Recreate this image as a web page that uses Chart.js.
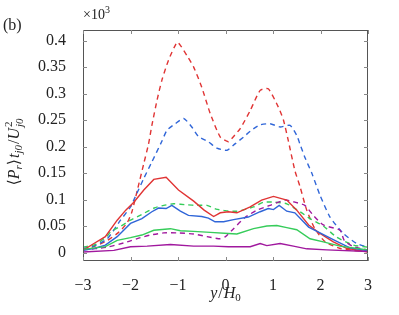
<!DOCTYPE html>
<html>
<head>
<meta charset="utf-8">
<script src="https://cdn.jsdelivr.net/npm/chart.js@4"></script>
<style>
  body { margin: 0; background: #fff; }
  #wrap { width: 399px; height: 315px; position: relative; }
</style>
</head>
<body>
<div id="wrap"><canvas id="chart"></canvas></div>
<script>
// tick labels
const xTicks = [-3, -2, -1, 0, 1, 2, 3];
const yTicks = [0, 0.05, 0.1, 0.15, 0.2, 0.25, 0.3, 0.35, 0.4];

// red dashed
const rdX = [-3, -2.75, -2.5, -2.25, -2.07, -1.97, -1.85, -1.72, -1.62, -1.55, -1.44, -1.34, -1.2, -1.02, -0.95, -0.8, -0.67, -0.5, -0.32, -0.11, 0.06, 0.13, 0.31, 0.52, 0.73, 0.9, 1.11, 1.22, 1.32, 1.46, 1.57, 1.71, 1.88, 2.1, 2.4, 2.7, 3];
const rdY = [0.005, 0.012, 0.022, 0.038, 0.056, 0.077, 0.12, 0.168, 0.205, 0.24, 0.288, 0.325, 0.363, 0.397, 0.391, 0.37, 0.35, 0.312, 0.262, 0.218, 0.209, 0.215, 0.234, 0.268, 0.306, 0.309, 0.275, 0.25, 0.212, 0.155, 0.124, 0.08, 0.045, 0.02, 0.008, 0.004, 0.002];
// blue dashed
const bdX = [-3, -2.8, -2.49, -2.21, -2.0, -1.9, -1.72, -1.55, -1.34, -1.23, -1.06, -0.88, -0.71, -0.57, -0.36, -0.18, 0.03, 0.2, 0.38, 0.55, 0.73, 0.94, 1.15, 1.36, 1.5, 1.57, 1.67, 1.82, 1.99, 2.2, 2.48, 2.76, 3];
const bdY = [0.008, 0.011, 0.026, 0.061, 0.086, 0.105, 0.14, 0.171, 0.21, 0.231, 0.243, 0.253, 0.237, 0.219, 0.209, 0.197, 0.193, 0.205, 0.218, 0.231, 0.241, 0.243, 0.237, 0.24, 0.221, 0.204, 0.18, 0.149, 0.108, 0.067, 0.036, 0.017, 0.01];
// red solid
const rsX = [-3, -2.77, -2.53, -2.28, -2.1, -1.93, -1.72, -1.51, -1.25, -0.99, -0.67, -0.45, -0.25, -0.11, 0.06, 0.24, 0.52, 0.76, 1.01, 1.29, 1.5, 1.75, 1.99, 2.27, 2.55, 3];
const rsY = [0.004, 0.017, 0.03, 0.061, 0.08, 0.095, 0.118, 0.138, 0.142, 0.118, 0.097, 0.08, 0.068, 0.075, 0.077, 0.075, 0.086, 0.099, 0.106, 0.099, 0.08, 0.052, 0.036, 0.02, 0.008, 0.001];
// blue solid
const bsX = [-3, -2.75, -2.53, -2.28, -2.0, -1.76, -1.55, -1.41, -1.25, -1.13, -0.95, -0.78, -0.5, -0.36, -0.22, -0.04, 0.17, 0.48, 0.73, 0.9, 1.01, 1.13, 1.29, 1.46, 1.75, 1.99, 2.3, 2.62, 3];
const bsY = [0.004, 0.008, 0.014, 0.03, 0.055, 0.064, 0.077, 0.084, 0.083, 0.089, 0.078, 0.07, 0.068, 0.065, 0.058, 0.058, 0.062, 0.067, 0.077, 0.083, 0.081, 0.089, 0.078, 0.075, 0.048, 0.037, 0.023, 0.009, 0.003];
// green dashed
const gdX = [-3, -2.75, -2.5, -2.42, -2.2, -2.0, -1.76, -1.5, -1.3, -1.09, -0.81, -0.6, -0.39, -0.2, 0, 0.24, 0.59, 0.8, 1.04, 1.29, 1.57, 1.78, 2.06, 2.34, 2.69, 3];
const gdY = [0.01, 0.015, 0.03, 0.039, 0.05, 0.061, 0.072, 0.084, 0.089, 0.092, 0.09, 0.089, 0.089, 0.082, 0.079, 0.078, 0.086, 0.095, 0.095, 0.092, 0.077, 0.064, 0.05, 0.029, 0.014, 0.01];
// green solid
const gsX = [-3, -2.53, -2.28, -2.0, -1.76, -1.51, -1.16, -0.95, -0.67, -0.32, 0.06, 0.24, 0.59, 0.87, 1.08, 1.29, 1.5, 1.78, 2.06, 2.41, 3];
const gsY = [0.006, 0.011, 0.023, 0.028, 0.033, 0.042, 0.045, 0.041, 0.04, 0.038, 0.036, 0.035, 0.045, 0.05, 0.051, 0.047, 0.043, 0.026, 0.02, 0.012, 0.005];
// purple dashed
const pdX = [-3, -2.5, -2.07, -1.79, -1.58, -1.3, -1.02, -0.67, -0.39, -0.11, 0, 0.17, 0.41, 0.66, 0.94, 1.25, 1.46, 1.67, 1.85, 2.06, 2.41, 2.5, 2.69, 3];
const pdY = [0.005, 0.01, 0.02, 0.028, 0.033, 0.037, 0.037, 0.035, 0.03, 0.026, 0.03, 0.045, 0.066, 0.08, 0.089, 0.099, 0.095, 0.089, 0.07, 0.052, 0.042, 0.023, 0.011, 0.005];
// purple solid
const psX = [-3, -2.35, -2.0, -1.65, -1.16, -0.67, -0.25, 0.06, 0.52, 0.73, 0.87, 1.15, 1.43, 1.71, 2.13, 3];
const psY = [0.001, 0.004, 0.011, 0.012, 0.015, 0.012, 0.012, 0.011, 0.011, 0.017, 0.013, 0.017, 0.012, 0.007, 0.005, 0.002];

const RED = '#e03434', BLUE = '#3066d8', GREEN = '#36cc5a', PURPLE = '#a0189e';
const SERIF = '"Liberation Serif", "DejaVu Serif", serif';

function pts(xs, ys) {
    return xs.map((x, i) => ({ x: x, y: ys[i] }));
}

function line(xs, ys, color, dashed) {
    return {
        data: pts(xs, ys),
        borderColor: color,
        borderWidth: 1.4,
        borderDash: dashed ? [5, 4] : [],
        tension: dashed ? 0.2 : 0,
        pointRadius: 0,
        showLine: true,
        fill: false
    };
}

// draw pieces of text with italic / sub / superscript
// a part with over:true is drawn at the start of the previous part (stacked sub/sup)
function richText(ctx, x, y, parts, align) {
    let total = 0, prevW = 0;
    parts.forEach(p => {
        ctx.font = (p.i ? 'italic ' : '') + p.s + 'px ' + SERIF;
        p.w = ctx.measureText(p.t).width;
        if (p.over) {
            total += Math.max(0, p.w - prevW);
        } else {
            total += p.w + (p.gap || 0);
            prevW = p.w;
        }
    });
    let cx = align === 'center' ? x - total / 2 : x;
    let lastStart = cx;
    parts.forEach(p => {
        ctx.font = (p.i ? 'italic ' : '') + p.s + 'px ' + SERIF;
        if (p.over) {
            ctx.fillText(p.t, lastStart, y + (p.dy || 0));
        } else {
            lastStart = cx;
            ctx.fillText(p.t, cx, y + (p.dy || 0));
            cx += p.w + (p.gap || 0);
        }
    });
}

const frame = {
    id: 'frame',
    afterDraw(chart) {
        const ctx = chart.ctx;
        const a = chart.chartArea;
        const xs = chart.scales.x, ys = chart.scales.y;
        ctx.save();
        ctx.strokeStyle = '#555';
        ctx.lineWidth = 1;
        ctx.strokeRect(a.left + 0.5, a.top + 0.5, a.right - a.left - 1, a.bottom - a.top - 1);
        // inward ticks
        ctx.strokeStyle = '#888';
        ctx.beginPath();
        xTicks.forEach(v => {
            const px = Math.round(xs.getPixelForValue(v)) + 0.5;
            ctx.moveTo(px, a.bottom); ctx.lineTo(px, a.bottom - 4);
            ctx.moveTo(px, a.top); ctx.lineTo(px, a.top + 4);
        });
        yTicks.forEach(v => {
            const py = Math.round(ys.getPixelForValue(v)) + 0.5;
            ctx.moveTo(a.left, py); ctx.lineTo(a.left + 4, py);
            ctx.moveTo(a.right, py); ctx.lineTo(a.right - 4, py);
        });
        ctx.stroke();

        ctx.fillStyle = '#222';
        ctx.textBaseline = 'alphabetic';
        // panel label and multiplier
        richText(ctx, 3, 30, [{ t: '(b)', s: 16 }]);
        richText(ctx, a.left, 19, [{ t: '×10', s: 14 }, { t: '3', s: 10, dy: -6 }]);
        // x title
        richText(ctx, (a.left + a.right) / 2, 298, [
            { t: 'y', s: 16, i: true, gap: 1 }, { t: '/', s: 16, gap: 1 },
            { t: 'H', s: 16, i: true }, { t: '0', s: 11, dy: 3 }
        ], 'center');
        // y title
        ctx.translate(19, 152);
        ctx.rotate(-Math.PI / 2);
        richText(ctx, 0, 0, [
            { t: '⟨', s: 16 }, { t: 'P', s: 16, i: true }, { t: 'r', s: 11, i: true, dy: 3 },
            { t: '⟩', s: 16, gap: 1 }, { t: 't', s: 16, i: true }, { t: 'j0', s: 11, i: true, dy: 3, gap: 1 },
            { t: '/', s: 16 }, { t: 'U', s: 16, i: true, gap: 1 }, { t: 'j0', s: 11, i: true, dy: 4 },
            { t: '2', s: 11, dy: -7, over: true }
        ], 'center');
        ctx.restore();
    }
};

new Chart(document.getElementById('chart'), {
    type: 'scatter',
    data: {
        datasets: [
            line(psX, psY, PURPLE, false),
            line(gsX, gsY, GREEN, false),
            line(bsX, bsY, BLUE, false),
            line(rsX, rsY, RED, false),
            line(pdX, pdY, PURPLE, true),
            line(gdX, gdY, GREEN, true),
            line(bdX, bdY, BLUE, true),
            line(rdX, rdY, RED, true)
        ]
    },
    options: {
        responsive: true,
        maintainAspectRatio: false,
        animation: false,
        layout: { padding: { top: 30, right: 31, left: 0, bottom: 0 } },
        plugins: { legend: { display: false }, tooltip: { enabled: false } },
        scales: {
            x: {
                type: 'linear',
                min: -3, max: 3,
                afterFit: s => { s.height = 54; },
                afterBuildTicks: s => { s.ticks = xTicks.map(v => ({ value: v })); },
                grid: { display: false },
                border: { display: false },
                ticks: {
                    padding: 7,
                    color: '#222',
                    font: { family: SERIF, size: 16 },
                    callback: v => v < 0 ? '\u2212' + Math.abs(v) : String(v)
                }
            },
            y: {
                type: 'linear',
                min: -0.016, max: 0.42,
                afterFit: s => { s.width = 83; },
                afterBuildTicks: s => { s.ticks = yTicks.map(v => ({ value: v })); },
                grid: { display: false },
                border: { display: false },
                ticks: {
                    padding: 9,
                    color: '#222',
                    font: { family: SERIF, size: 16 },
                    callback: v => String(+v.toFixed(2))
                }
            }
        }
    },
    plugins: [frame]
});
</script>
</body>
</html>
